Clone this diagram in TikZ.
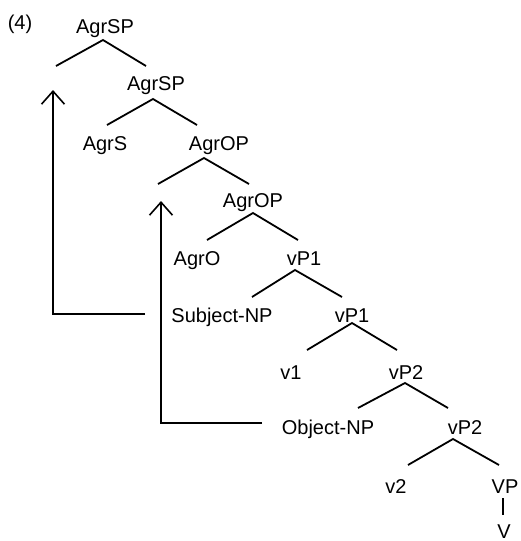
\documentclass[tikz,border=0pt]{standalone}
\usepackage{fontspec}
\setmainfont{Liberation Sans}
\usetikzlibrary{arrows.meta}
\begin{document}
\begin{tikzpicture}[x=1pt,y=-1pt,
  lab/.style={anchor=base,inner sep=0pt,font=\fontsize{20}{24}\selectfont},
  branch/.style={line width=1.8pt},
  mvarrow/.style={line width=1.6pt,-{Straight Barb[length=13pt,width=23pt,line width=1.6pt]}}]
\useasboundingbox (0,0) rectangle (520,541);
% labels
\node[lab] (num) at (20,29) {(4)};
\node[lab] (agrsp1) at (105,33) {AgrSP};
\node[lab] (agrsp2) at (156,90) {AgrSP};
\node[lab] (agrs) at (105,150) {AgrS};
\node[lab] (agrop1) at (219,150) {AgrOP};
\node[lab] (agrop2) at (253,207) {AgrOP};
\node[lab] (agro) at (197,265) {AgrO};
\node[lab] (vpa1) at (304,265) {vP1};
\node[lab] (subj) at (222,322) {Subject-NP};
\node[lab] (vpa2) at (352,322) {vP1};
\node[lab] (v1) at (291,379) {v1};
\node[lab] (vpb1) at (406,379) {vP2};
\node[lab] (obj) at (328,434) {Object-NP};
\node[lab] (vpb2) at (465,434) {vP2};
\node[lab] (v2) at (396,493) {v2};
\node[lab] (vp) at (505,493) {VP};
\node[lab] (v) at (504,538) {V};
% branch points
\coordinate (a1) at (103,40);  \coordinate (a1l) at (56,66);  \coordinate (a1r) at (146,66);
\coordinate (a2) at (153,99);  \coordinate (a2l) at (107,125); \coordinate (a2r) at (197,125);
\coordinate (a3) at (204,158); \coordinate (a3l) at (158,184); \coordinate (a3r) at (249,184);
\coordinate (a4) at (253,213); \coordinate (a4l) at (207,240); \coordinate (a4r) at (298,240);
\coordinate (a5) at (295,270); \coordinate (a5l) at (252,297); \coordinate (a5r) at (342,297);
\coordinate (a6) at (352,323); \coordinate (a6l) at (307,350); \coordinate (a6r) at (397,350);
\coordinate (a7) at (405,383); \coordinate (a7l) at (358,408); \coordinate (a7r) at (448,408);
\coordinate (a8) at (453,439); \coordinate (a8l) at (408,465); \coordinate (a8r) at (499,465);
\coordinate (a9) at (503,498); \coordinate (a9b) at (503,515);
\foreach \n in {a1,a2,a3,a4,a5,a6,a7,a8}{
  \draw[branch] (\n l) -- (\n) -- (\n r);
}
\draw[branch] (a9) -- (a9b);
% movement arrows
\coordinate (s1) at (145,314); \coordinate (c1) at (53,314); \coordinate (t1) at (53,90);
\coordinate (s2) at (262,423); \coordinate (c2) at (161,423); \coordinate (t2) at (161,201);
\draw[mvarrow] (s1) -- (c1) -- (t1);
\draw[mvarrow] (s2) -- (c2) -- (t2);
\end{tikzpicture}
\end{document}
